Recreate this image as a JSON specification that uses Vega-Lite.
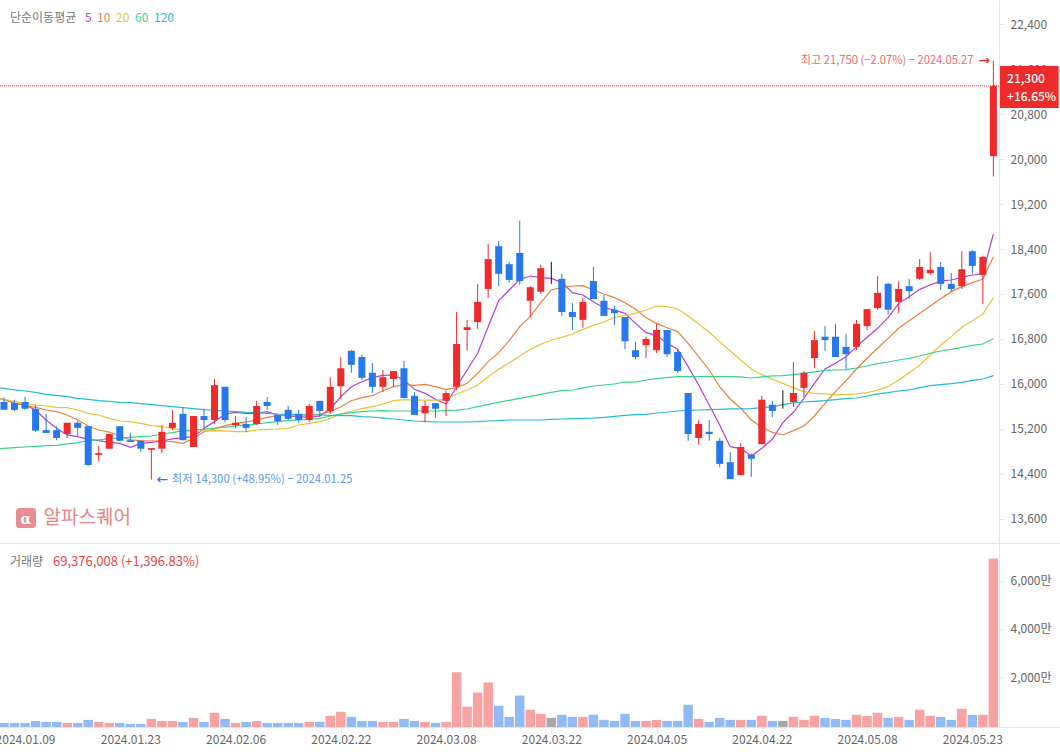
{"$schema":"https://vega.github.io/schema/vega-lite/v6.json","background":"#ffffff","padding":{"left":-5,"top":0,"right":0,"bottom":0},"spacing":0,"config":{"view":{"stroke":null},"font":"Noto Sans CJK KR","concat":{"spacing":0}},
"datasets":{"rows":[
{"i":-0.38,"5":15745,"10":15740,"20":15740,"60":14850,"120":15930},
{"i":0,"date":"2024.01.05","dir":"down","open":15680,"high":15760,"low":15540,"close":15540,"volume":860000,"5":15728,"10":15716,"20":15728,"60":14857,"120":15923},
{"i":1,"date":"2024.01.08","dir":"down","open":15660,"high":15720,"low":15520,"close":15540,"volume":860000,"5":15657,"10":15657,"20":15686,"60":14868,"120":15894},
{"i":2,"date":"2024.01.09","dir":"down","open":15680,"high":15770,"low":15540,"close":15560,"volume":860000,"5":15627,"10":15615,"20":15657,"60":14880,"120":15876},
{"i":3,"date":"2024.01.10","dir":"down","open":15560,"high":15630,"low":15150,"close":15170,"volume":1700000,"5":15538,"10":15586,"20":15627,"60":14892,"120":15852},
{"i":4,"date":"2024.01.11","dir":"down","open":15180,"high":15470,"low":15130,"close":15130,"volume":1280000,"5":15360,"10":15538,"20":15609,"60":14904,"120":15817},
{"i":5,"date":"2024.01.12","dir":"down","open":15180,"high":15250,"low":15000,"close":15040,"volume":1280000,"5":15212,"10":15508,"20":15586,"60":14910,"120":15799},
{"i":6,"date":"2024.01.15","dir":"up","open":15110,"high":15310,"low":15040,"close":15310,"volume":860000,"5":15094,"10":15449,"20":15580,"60":14934,"120":15775},
{"i":7,"date":"2024.01.16","dir":"down","open":15310,"high":15340,"low":15080,"close":15220,"volume":860000,"5":15064,"10":15360,"20":15538,"60":14957,"120":15745},
{"i":8,"date":"2024.01.17","dir":"down","open":15250,"high":15250,"low":14540,"close":14560,"volume":2130000,"5":15017,"10":15254,"20":15479,"60":14993,"120":15728},
{"i":9,"date":"2024.01.18","dir":"up","open":14740,"high":14900,"low":14630,"close":14770,"volume":1280000,"5":14993,"10":15182,"20":15449,"60":15005,"120":15704},
{"i":10,"date":"2024.01.19","dir":"up","open":14850,"high":15110,"low":14850,"close":15110,"volume":860000,"5":14963,"10":15147,"20":15390,"60":15028,"120":15692},
{"i":11,"date":"2024.01.22","dir":"down","open":15250,"high":15250,"low":14990,"close":14990,"volume":860000,"5":14945,"10":15076,"20":15342,"60":15040,"120":15674},
{"i":12,"date":"2024.01.23","dir":"down","open":15000,"high":15130,"low":14970,"close":14970,"volume":440000,"5":14874,"10":15005,"20":15331,"60":15052,"120":15668},
{"i":13,"date":"2024.01.24","dir":"down","open":14990,"high":15000,"low":14790,"close":14850,"volume":440000,"5":14945,"10":14993,"20":15301,"60":15064,"120":15651},
{"i":14,"date":"2024.01.25","dir":"up","open":14830,"high":14860,"low":14300,"close":14860,"volume":2550000,"5":14963,"10":14987,"20":15260,"60":15076,"120":15633},
{"i":15,"date":"2024.01.26","dir":"up","open":14850,"high":15270,"low":14770,"close":15150,"volume":1700000,"5":14987,"10":14987,"20":15242,"60":15111,"120":15615},
{"i":16,"date":"2024.01.29","dir":"up","open":15220,"high":15540,"low":15180,"close":15310,"volume":1700000,"5":15023,"10":14975,"20":15212,"60":15135,"120":15597},
{"i":17,"date":"2024.01.30","dir":"down","open":15470,"high":15590,"low":15000,"close":15000,"volume":1280000,"5":15046,"10":14945,"20":15171,"60":15171,"120":15580},
{"i":18,"date":"2024.01.31","dir":"up","open":14880,"high":15430,"low":14880,"close":15430,"volume":2970000,"5":15064,"10":15034,"20":15153,"60":15182,"120":15562},
{"i":19,"date":"2024.02.01","dir":"down","open":15430,"high":15560,"low":15200,"close":15360,"volume":1280000,"5":15212,"10":15153,"20":15165,"60":15194,"120":15544},
{"i":20,"date":"2024.02.02","dir":"up","open":15360,"high":16090,"low":15290,"close":15980,"volume":5080000,"5":15331,"10":15200,"20":15171,"60":15218,"120":15532},
{"i":21,"date":"2024.02.05","dir":"down","open":15950,"high":15950,"low":15320,"close":15360,"volume":2550000,"5":15467,"10":15260,"20":15165,"60":15230,"120":15520},
{"i":22,"date":"2024.02.06","dir":"up","open":15270,"high":15430,"low":15220,"close":15310,"volume":860000,"5":15497,"10":15301,"20":15153,"60":15254,"120":15508},
{"i":23,"date":"2024.02.07","dir":"down","open":15290,"high":15410,"low":15150,"close":15220,"volume":1280000,"5":15479,"10":15325,"20":15153,"60":15266,"120":15497},
{"i":24,"date":"2024.02.08","dir":"up","open":15290,"high":15700,"low":15270,"close":15610,"volume":1700000,"5":15479,"10":15360,"20":15182,"60":15289,"120":15491},
{"i":25,"date":"2024.02.13","dir":"down","open":15680,"high":15770,"low":15540,"close":15610,"volume":860000,"5":15508,"10":15408,"20":15194,"60":15313,"120":15479},
{"i":26,"date":"2024.02.14","dir":"down","open":15450,"high":15450,"low":15270,"close":15340,"volume":860000,"5":15449,"10":15437,"20":15200,"60":15331,"120":15467},
{"i":27,"date":"2024.02.15","dir":"down","open":15540,"high":15610,"low":15360,"close":15380,"volume":860000,"5":15431,"10":15449,"20":15212,"60":15348,"120":15461},
{"i":28,"date":"2024.02.16","dir":"down","open":15470,"high":15540,"low":15310,"close":15360,"volume":860000,"5":15420,"10":15449,"20":15271,"60":15360,"120":15455},
{"i":29,"date":"2024.02.19","dir":"up","open":15360,"high":15650,"low":15320,"close":15610,"volume":1280000,"5":15408,"10":15449,"20":15301,"60":15372,"120":15449},
{"i":30,"date":"2024.02.20","dir":"down","open":15700,"high":15700,"low":15410,"close":15520,"volume":1280000,"5":15431,"10":15461,"20":15331,"60":15390,"120":15449},
{"i":31,"date":"2024.02.21","dir":"up","open":15520,"high":16120,"low":15470,"close":15950,"volume":3820000,"5":15560,"10":15508,"20":15389,"60":15431,"120":15443},
{"i":32,"date":"2024.02.22","dir":"up","open":15960,"high":16480,"low":15730,"close":16280,"volume":5510000,"5":15770,"10":15597,"20":15466,"60":15466,"120":15437},
{"i":33,"date":"2024.02.23","dir":"down","open":16590,"high":16600,"low":16200,"close":16340,"volume":3390000,"5":15952,"10":15703,"20":15520,"60":15490,"120":15437},
{"i":34,"date":"2024.02.26","dir":"down","open":16480,"high":16520,"low":16070,"close":16110,"volume":1700000,"5":16041,"10":15757,"20":15561,"60":15508,"120":15419},
{"i":35,"date":"2024.02.27","dir":"down","open":16200,"high":16370,"low":15840,"close":15950,"volume":1700000,"5":16112,"10":15792,"20":15597,"60":15520,"120":15413},
{"i":36,"date":"2024.02.28","dir":"up","open":15950,"high":16250,"low":15860,"close":16120,"volume":1280000,"5":16154,"10":15881,"20":15644,"60":15526,"120":15395},
{"i":37,"date":"2024.02.29","dir":"up","open":16090,"high":16230,"low":15950,"close":16230,"volume":1280000,"5":16160,"10":15952,"20":15703,"60":15520,"120":15378},
{"i":38,"date":"2024.03.04","dir":"down","open":16280,"high":16410,"low":15750,"close":15750,"volume":2550000,"5":16071,"10":15988,"20":15721,"60":15520,"120":15360},
{"i":39,"date":"2024.03.05","dir":"down","open":15790,"high":15860,"low":15450,"close":15450,"volume":1700000,"5":15905,"10":15976,"20":15715,"60":15520,"120":15342},
{"i":40,"date":"2024.03.06","dir":"up","open":15480,"high":15700,"low":15320,"close":15610,"volume":1280000,"5":15834,"10":15994,"20":15715,"60":15520,"120":15336},
{"i":41,"date":"2024.03.07","dir":"down","open":15660,"high":15660,"low":15400,"close":15560,"volume":860000,"5":15727,"10":15952,"20":15715,"60":15520,"120":15324},
{"i":42,"date":"2024.03.08","dir":"up","open":15700,"high":15880,"low":15430,"close":15840,"volume":1280000,"5":15644,"10":15899,"20":15727,"60":15526,"120":15324},
{"i":43,"date":"2024.03.11","dir":"up","open":15950,"high":17280,"low":15890,"close":16710,"volume":21980000,"5":15952,"10":15934,"20":15822,"60":15537,"120":15324},
{"i":44,"date":"2024.03.12","dir":"up","open":16960,"high":17140,"low":16590,"close":17010,"volume":7620000,"5":16249,"10":16012,"20":15893,"60":15555,"120":15324},
{"i":45,"date":"2024.03.13","dir":"up","open":17100,"high":17780,"low":16980,"close":17460,"volume":13530000,"5":16545,"10":16189,"20":15982,"60":15597,"120":15330},
{"i":46,"date":"2024.03.14","dir":"up","open":17690,"high":18490,"low":17530,"close":18220,"volume":17760000,"5":17019,"10":16397,"20":16130,"60":15638,"120":15342},
{"i":47,"date":"2024.03.15","dir":"down","open":18450,"high":18540,"low":17740,"close":17960,"volume":8040000,"5":17481,"10":16557,"20":16260,"60":15674,"120":15348},
{"i":48,"date":"2024.03.18","dir":"down","open":18130,"high":18170,"low":17800,"close":17850,"volume":3390000,"5":17671,"10":16770,"20":16379,"60":15709,"120":15360},
{"i":49,"date":"2024.03.19","dir":"down","open":18330,"high":18900,"low":17760,"close":17830,"volume":12260000,"5":17860,"10":17019,"20":16497,"60":15745,"120":15360},
{"i":50,"date":"2024.03.20","dir":"up","open":17480,"high":17740,"low":17190,"close":17720,"volume":6350000,"5":17920,"10":17197,"20":16616,"60":15780,"120":15360},
{"i":51,"date":"2024.03.21","dir":"up","open":17640,"high":18120,"low":17600,"close":18060,"volume":4660000,"5":17890,"10":17446,"20":16705,"60":15816,"120":15360},
{"i":52,"date":"2024.03.22","dir":"flat","open":17860,"high":18170,"low":17780,"close":17860,"volume":2970000,"5":17878,"10":17671,"20":16782,"60":15851,"120":15372},
{"i":53,"date":"2024.03.25","dir":"down","open":17870,"high":17960,"low":17210,"close":17280,"volume":4240000,"5":17807,"10":17718,"20":16829,"60":15881,"120":15378},
{"i":54,"date":"2024.03.26","dir":"down","open":17280,"high":17440,"low":16960,"close":17190,"volume":3390000,"5":17623,"10":17742,"20":16889,"60":15893,"120":15383},
{"i":55,"date":"2024.03.27","dir":"up","open":17140,"high":17530,"low":17000,"close":17460,"volume":3390000,"5":17582,"10":17748,"20":16971,"60":15928,"120":15389},
{"i":56,"date":"2024.03.28","dir":"down","open":17830,"high":18080,"low":17510,"close":17510,"volume":4240000,"5":17463,"10":17671,"20":17043,"60":15964,"120":15395},
{"i":57,"date":"2024.03.29","dir":"down","open":17480,"high":17580,"low":17210,"close":17210,"volume":2130000,"5":17357,"10":17600,"20":17102,"60":15982,"120":15407},
{"i":58,"date":"2024.04.01","dir":"down","open":17320,"high":17390,"low":17050,"close":17260,"volume":1700000,"5":17315,"10":17535,"20":17185,"60":16000,"120":15425},
{"i":59,"date":"2024.04.02","dir":"down","open":17190,"high":17190,"low":16620,"close":16760,"volume":4660000,"5":17256,"10":17446,"20":17214,"60":16035,"120":15443},
{"i":60,"date":"2024.04.03","dir":"down","open":16600,"high":16750,"low":16440,"close":16480,"volume":1700000,"5":17078,"10":17327,"20":17256,"60":16035,"120":15455},
{"i":61,"date":"2024.04.04","dir":"up","open":16690,"high":16840,"low":16460,"close":16800,"volume":1700000,"5":16912,"10":17179,"20":17315,"60":16071,"120":15461},
{"i":62,"date":"2024.04.05","dir":"up","open":16600,"high":17070,"low":16550,"close":16960,"volume":2130000,"5":16865,"10":17078,"20":17386,"60":16094,"120":15484},
{"i":63,"date":"2024.04.08","dir":"down","open":16960,"high":16960,"low":16480,"close":16530,"volume":1700000,"5":16723,"10":17001,"20":17375,"60":16112,"120":15502},
{"i":64,"date":"2024.04.09","dir":"down","open":16570,"high":16620,"low":16200,"close":16230,"volume":1700000,"5":16617,"10":16931,"20":17334,"60":16131,"120":15520},
{"i":65,"date":"2024.04.11","dir":"down","open":15840,"high":15840,"low":14990,"close":15110,"volume":8460000,"5":16308,"10":16723,"20":17209,"60":16131,"120":15532},
{"i":66,"date":"2024.04.12","dir":"up","open":15040,"high":15360,"low":14920,"close":15290,"volume":2550000,"5":15983,"10":16486,"20":17067,"60":16131,"120":15538},
{"i":67,"date":"2024.04.15","dir":"down","open":15150,"high":15360,"low":14990,"close":15110,"volume":1280000,"5":15627,"10":16249,"20":16919,"60":16131,"120":15544},
{"i":68,"date":"2024.04.16","dir":"down","open":14990,"high":15040,"low":14520,"close":14580,"volume":2970000,"5":15271,"10":15953,"20":16753,"60":16131,"120":15550},
{"i":69,"date":"2024.04.17","dir":"down","open":14610,"high":14790,"low":14310,"close":14310,"volume":2130000,"5":14886,"10":15734,"20":16587,"60":16131,"120":15556},
{"i":70,"date":"2024.04.18","dir":"up","open":14380,"high":14950,"low":14380,"close":14880,"volume":2130000,"5":14851,"10":15568,"20":16427,"60":16125,"120":15556},
{"i":71,"date":"2024.04.19","dir":"down","open":14740,"high":14770,"low":14350,"close":14670,"volume":2130000,"5":14720,"10":15360,"20":16267,"60":16107,"120":15562},
{"i":72,"date":"2024.04.22","dir":"up","open":14930,"high":15790,"low":14930,"close":15720,"volume":3820000,"5":14857,"10":15230,"20":16166,"60":16125,"120":15580},
{"i":73,"date":"2024.04.23","dir":"down","open":15630,"high":15700,"low":15410,"close":15520,"volume":1700000,"5":15017,"10":15141,"20":16083,"60":16143,"120":15592},
{"i":74,"date":"2024.04.24","dir":"flat","open":15750,"high":15890,"low":15560,"close":15750,"volume":1700000,"5":15313,"10":15094,"20":16012,"60":16149,"120":15633},
{"i":75,"date":"2024.04.25","dir":"up","open":15680,"high":16390,"low":15590,"close":15840,"volume":3390000,"5":15497,"10":15171,"20":15935,"60":16166,"120":15663},
{"i":76,"date":"2024.04.26","dir":"up","open":15930,"high":16230,"low":15770,"close":16200,"volume":2130000,"5":15746,"10":15254,"20":15864,"60":16190,"120":15680},
{"i":77,"date":"2024.04.29","dir":"up","open":16460,"high":16940,"low":16280,"close":16780,"volume":3820000,"5":16012,"10":15431,"20":15834,"60":16214,"120":15692},
{"i":78,"date":"2024.04.30","dir":"down","open":16840,"high":17030,"low":16590,"close":16780,"volume":2970000,"5":16267,"10":15657,"20":15823,"60":16243,"120":15704},
{"i":79,"date":"2024.05.02","dir":"down","open":16840,"high":17070,"low":16480,"close":16480,"volume":2550000,"5":16368,"10":15864,"20":15811,"60":16249,"120":15722},
{"i":80,"date":"2024.05.03","dir":"down","open":16660,"high":16890,"low":16270,"close":16530,"volume":2130000,"5":16486,"10":16060,"20":15811,"60":16255,"120":15740},
{"i":81,"date":"2024.05.07","dir":"up","open":16660,"high":17140,"low":16600,"close":17070,"volume":4240000,"5":16664,"10":16267,"20":15823,"60":16285,"120":15751},
{"i":82,"date":"2024.05.08","dir":"up","open":17030,"high":17330,"low":16960,"close":17330,"volume":3820000,"5":16830,"10":16457,"20":15846,"60":16320,"120":15787},
{"i":83,"date":"2024.05.09","dir":"up","open":17350,"high":17920,"low":17320,"close":17620,"volume":5080000,"5":16990,"10":16635,"20":15894,"60":16362,"120":15823},
{"i":84,"date":"2024.05.10","dir":"down","open":17780,"high":17800,"low":17240,"close":17320,"volume":2970000,"5":17180,"10":16812,"20":15953,"60":16391,"120":15846},
{"i":85,"date":"2024.05.13","dir":"up","open":17460,"high":17830,"low":17260,"close":17690,"volume":3390000,"5":17434,"10":16990,"20":16072,"60":16427,"120":15876},
{"i":86,"date":"2024.05.14","dir":"down","open":17740,"high":17870,"low":17510,"close":17650,"volume":2130000,"5":17553,"10":17126,"20":16202,"60":16457,"120":15894},
{"i":87,"date":"2024.05.16","dir":"up","open":17870,"high":18220,"low":17850,"close":18080,"volume":6350000,"5":17683,"10":17257,"20":16338,"60":16498,"120":15935},
{"i":88,"date":"2024.05.17","dir":"up","open":17970,"high":18350,"low":17940,"close":18030,"volume":3820000,"5":17760,"10":17387,"20":16516,"60":16546,"120":15971},
{"i":89,"date":"2024.05.20","dir":"down","open":18080,"high":18170,"low":17670,"close":17780,"volume":3390000,"5":17832,"10":17517,"20":16694,"60":16587,"120":15989},
{"i":90,"date":"2024.05.21","dir":"down","open":17780,"high":17970,"low":17640,"close":17690,"volume":2130000,"5":17849,"10":17642,"20":16842,"60":16617,"120":16006},
{"i":91,"date":"2024.05.22","dir":"up","open":17740,"high":18360,"low":17690,"close":18040,"volume":6770000,"5":17897,"10":17731,"20":17008,"60":16652,"120":16030},
{"i":92,"date":"2024.05.23","dir":"down","open":18360,"high":18380,"low":17960,"close":18100,"volume":4240000,"5":17938,"10":17802,"20":17126,"60":16688,"120":16065},
{"i":93,"date":"2024.05.24","dir":"up","open":17940,"high":18280,"low":17420,"close":18260,"volume":4240000,"5":17956,"10":17867,"20":17245,"60":16711,"120":16089},
{"i":94,"date":"2024.05.27","dir":"up","open":20050,"high":21750,"low":19690,"close":21300,"volume":69376008,"5":18667,"10":18264,"20":17535,"60":16806,"120":16148}
]},
"vconcat":[
{"width":1060,"height":543,"data":{"name":"rows"},
"encoding":{"x":{"field":"i","type":"quantitative","scale":{"domain":[-0.38,100.33],"nice":false,"zero":false,"padding":0},"axis":{"title":null,"labels":false,"ticks":false,"grid":false,"domain":true,"domainColor":"#e6e6e6"}}},
"layer":[
{"transform":[{"fold":["5","10","20","60","120"],"as":["period","ma"]}],
"mark":{"type":"line","strokeWidth":1.2,"clip":true,"interpolate":"linear"},
"encoding":{
"y":{"field":"ma","type":"quantitative","scale":{"domain":[13173.3,22826.7],"nice":false,"zero":false},"axis":{"orient":"right","offset":-61,"title":null,"grid":false,"values":[13600,14400,15200,16000,16800,17600,18400,19200,20000,20800,21600,22400],"format":",d","domainColor":"#e6e6e6","tickColor":"#e6e6e6","tickSize":5,"labelColor":"#666666","labelFontSize":12,"labelPadding":6,"labelFont":"Noto Sans CJK KR"}},
"color":{"field":"period","type":"nominal","scale":{"domain":["5","10","20","60","120"],"range":["#B23FDC","#EE7F3C","#E8C33A","#36D487","#25BAD6"]},
"legend":{"title":"단순이동평균","orient":"none","legendX":10,"legendY":12,"direction":"horizontal","titleOrient":"left","titleColor":"#777777","titleFontSize":12,"titleFontWeight":"normal","titleFont":"Noto Sans CJK KR","titlePadding":-4,"labelFontSize":12,"labelFont":"Noto Sans CJK KR","labelOffset":0,"symbolSize":1,"symbolOpacity":0,"symbolStrokeWidth":0,"symbolOffset":0,"columnPadding":-7,"gridAlign":"none","padding":0,"encode":{"labels":{"update":{"fill":{"signal":"({'5':'#B23FDC','10':'#EE7F3C','20':'#E8C33A','60':'#36D487','120':'#25BAD6'})[datum.value]"}}}}}}}},
{"mark":{"type":"rule","strokeWidth":1,"clip":true},
"encoding":{"y":{"field":"high","type":"quantitative"},"y2":{"field":"low"},
"color":{"condition":[{"test":"datum.dir==='up'","value":"#EE2A2A"},{"test":"datum.dir==='down'","value":"#2678EC"}],"value":"#111111"}}},
{"mark":{"type":"bar","size":7,"clip":true,"orient":"vertical","minBandSize":1},
"encoding":{"y":{"field":"open","type":"quantitative"},"y2":{"field":"close"},
"color":{"condition":[{"test":"datum.dir==='up'","value":"#EE2A2A"},{"test":"datum.dir==='down'","value":"#2678EC"}],"value":"#111111"}}},
{"data":{"values":[{"price":21300,"from":-0.38,"to":94.54}]},"mark":{"type":"rule","color":"#EE2A2A","strokeWidth":1,"strokeDash":[1,1]},"encoding":{"x":{"field":"from","type":"quantitative"},"x2":{"field":"to"},"y":{"field":"price","type":"quantitative"}}},
{"data":{"values":[{"from":94.62,"to":100.2,"top":21653,"bottom":20907}]},"mark":{"type":"rect","fill":"#EE2A2A"},"encoding":{"x":{"field":"from","type":"quantitative"},"x2":{"field":"to"},"y":{"field":"top","type":"quantitative"},"y2":{"field":"bottom"}}},
{"data":{"values":[{"label":"21,300","i":95.3,"price":21431},{"label":"+16.65%","i":95.3,"price":21102}]},"mark":{"type":"text","align":"left","baseline":"middle","fill":"#ffffff","fontSize":12,"fontWeight":500},"encoding":{"x":{"field":"i","type":"quantitative"},"y":{"field":"price","type":"quantitative"},"text":{"field":"label"}}},
{"data":{"values":[{"label":"최고 21,750 (−2.07%) − 2024.05.27","i":94,"price":21750}]},"mark":{"type":"text","align":"right","baseline":"middle","dx":-20,"fill":"#F26B6B","fontSize":11.2},"encoding":{"x":{"field":"i","type":"quantitative"},"y":{"field":"price","type":"quantitative"},"text":{"field":"label"}}},
{"data":{"values":[{"label":"→","i":94,"price":21750}]},"mark":{"type":"text","align":"center","baseline":"middle","dx":-9,"fill":"#EE2A2A","fontSize":14,"font":"DejaVu Sans"},"encoding":{"x":{"field":"i","type":"quantitative"},"y":{"field":"price","type":"quantitative"},"text":{"field":"label"}}},
{"data":{"values":[{"label":"최저 14,300 (+48.95%) − 2024.01.25","i":14,"price":14300}]},"mark":{"type":"text","align":"left","baseline":"middle","dx":20.5,"fill":"#5B97EE","fontSize":11.3},"encoding":{"x":{"field":"i","type":"quantitative"},"y":{"field":"price","type":"quantitative"},"text":{"field":"label"}}},
{"data":{"values":[{"label":"←","i":14,"price":14300}]},"mark":{"type":"text","align":"center","baseline":"middle","dx":11,"fill":"#2678EC","fontSize":14,"font":"DejaVu Sans"},"encoding":{"x":{"field":"i","type":"quantitative"},"y":{"field":"price","type":"quantitative"},"text":{"field":"label"}}},
{"data":{"values":[{"from":1.14,"to":3.04,"top":13796,"bottom":13440}]},"mark":{"type":"rect","fill":"#E88E8E","cornerRadius":3},"encoding":{"x":{"field":"from","type":"quantitative"},"x2":{"field":"to"},"y":{"field":"top","type":"quantitative"},"y2":{"field":"bottom"}}},
{"data":{"values":[{"label":"α","i":2.09,"price":13590}]},"mark":{"type":"text","align":"center","baseline":"middle","fill":"#ffffff","fontSize":14,"fontWeight":"bold","font":"DejaVu Serif"},"encoding":{"x":{"field":"i","type":"quantitative"},"y":{"field":"price","type":"quantitative"},"text":{"field":"label"}}},
{"data":{"values":[{"label":"알파스퀘어","i":3.75,"price":13618}]},"mark":{"type":"text","align":"left","baseline":"middle","fill":"#E58585","fontSize":19},"encoding":{"x":{"field":"i","type":"quantitative"},"y":{"field":"price","type":"quantitative"},"text":{"field":"label"}}}
]},
{"width":1060,"height":184,"data":{"name":"rows"},
"encoding":{"x":{"field":"i","type":"quantitative","scale":{"domain":[-0.38,100.33],"nice":false,"zero":false,"padding":0},"axis":{"title":null,"grid":false,"values":[2,12,22,32,42,52,62,72,82,92],"labelExpr":"({'2':'2024.01.09','12':'2024.01.23','22':'2024.02.06','32':'2024.02.22','42':'2024.03.08','52':'2024.03.22','62':'2024.04.05','72':'2024.04.22','82':'2024.05.08','92':'2024.05.23'})[datum.value]","domainColor":"#e6e6e6","tickColor":"#e6e6e6","tickSize":5,"labelColor":"#666666","labelFontSize":12,"labelPadding":2,"labelFont":"Noto Sans CJK KR","labelOverlap":false,"labelFlush":false}}},
"layer":[
{"mark":{"type":"bar","size":9.5,"clip":true,"orient":"vertical"},
"encoding":{"y":{"field":"volume","type":"quantitative","scale":{"domain":[-833000,75833000],"nice":false,"zero":false},"axis":{"orient":"right","offset":-61,"title":null,"grid":false,"values":[20000000,40000000,60000000],"labelExpr":"format(datum.value/10000,',d')+'만'","domainColor":"#e6e6e6","tickColor":"#e6e6e6","tickSize":5,"labelColor":"#666666","labelFontSize":12,"labelPadding":6,"labelFont":"Noto Sans CJK KR"}},"y2":{"datum":-833000},
"color":{"condition":[{"test":"datum.dir==='up'","value":"#F8A2A2"},{"test":"datum.dir==='down'","value":"#92BBF6"}],"value":"#A8A8A8"}}},
{"data":{"values":[{"label":"거래량","i":0.57,"volume":67920000}]},"mark":{"type":"text","align":"left","baseline":"middle","fill":"#777777","fontSize":12},"encoding":{"x":{"field":"i","type":"quantitative"},"y":{"field":"volume","type":"quantitative"},"text":{"field":"label"}}},
{"data":{"values":[{"label":"69,376,008 (+1,396.83%)","i":4.66,"volume":67920000}]},"mark":{"type":"text","align":"left","baseline":"middle","fill":"#EE4444","fontSize":13},"encoding":{"x":{"field":"i","type":"quantitative"},"y":{"field":"volume","type":"quantitative"},"text":{"field":"label"}}}
]}
]}
